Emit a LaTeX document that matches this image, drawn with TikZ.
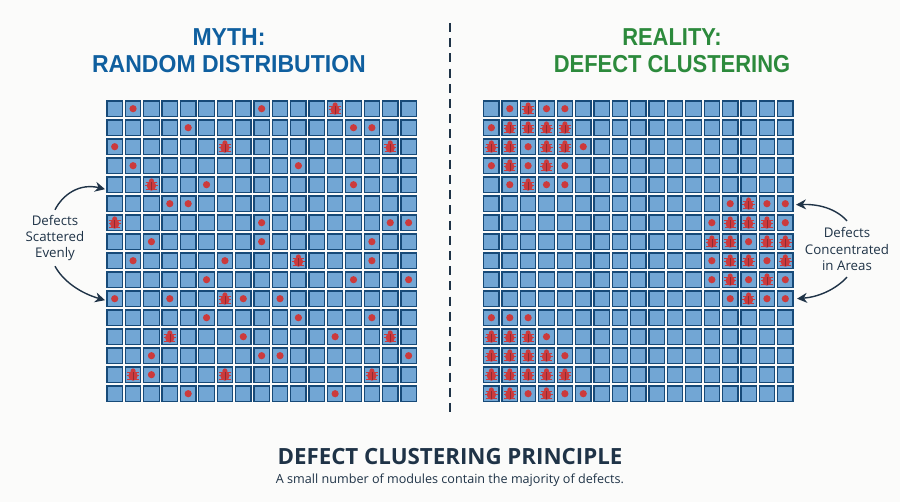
\documentclass[tikz,border=0pt]{standalone}
\usepackage{fontspec}
\setmainfont{Open Sans}
\newfontfamily\titlefontL[FakeStretch=0.94]{Liberation Sans}
\newfontfamily\titlefontR[FakeStretch=0.895]{Liberation Sans}
\usetikzlibrary{arrows.meta}
\definecolor{pagebg}{HTML}{FBFBFA}
\definecolor{cellfill}{HTML}{72A6D4}
\definecolor{celledge}{HTML}{174A78}
\definecolor{defect}{HTML}{CC3A3C}
\definecolor{defectdark}{HTML}{8E2B33}
\definecolor{ink}{HTML}{1F3347}
\definecolor{mythblue}{HTML}{0F5F9F}
\definecolor{realgreen}{HTML}{2C8A3C}
\tikzset{
  cellbox/.style={draw=celledge,fill=cellfill,line width=1.25pt,minimum size=15.4pt,inner sep=0pt,outer sep=0pt},
  dotmark/.style={fill=defect,draw=none},
  headline/.style={align=center,inner sep=0pt},
  sidelabel/.style={font=\fontsize{13.3}{16.3}\selectfont,align=center,text=ink,inner sep=0pt,minimum height=56pt},
  callout/.style={draw=ink,line width=1.4pt,-{Stealth[length=10pt,width=10pt]}},
  bug/.pic={
    \draw[defect,line width=.7pt] (-5.8,-2.4)--(5.8,-2.4) (-6.2,1)--(6.2,1) (-5.6,5)--(5.6,5);
    \fill[defect] (0,1) ellipse (4.7 and 5);
    \fill[defect] (0,-3.8) circle (2.5);
    \draw[defectdark,line width=.5pt] (0,-2.6)--(0,5.6);
  }
}
\newcommand{\dotsat}[2]{\foreach \r/\c in {#2} \fill[dotmark] (#1-\r-\c.center) circle (3.6);}
\newcommand{\bugsat}[2]{\foreach \r/\c in {#2} \pic at (#1-\r-\c.center) {bug};}
\begin{document}
\begin{tikzpicture}[x=1pt,y=-1pt]
\fill[pagebg] (0,0) rectangle (900,502);
\useasboundingbox (0,0) rectangle (900,502);
% grids
\foreach \r in {0,...,15}{
  \foreach \c in {0,...,16}{
    \node[cellbox] (L-\r-\c) at ({114.7+18.37*\c},{108.7+19*\r}) {};
    \node[cellbox] (R-\r-\c) at ({491.4+18.37*\c},{108.7+19*\r}) {};
  }
}
% left defects
\dotsat{L}{0/1,0/8,1/4,1/13,1/14,2/0,3/1,3/10,4/5,4/13,5/3,5/4,6/8,6/15,6/16,7/2,7/8,7/14,8/1,8/6,8/14,9/5,9/13,9/16,10/0,10/3,10/7,10/9,11/5,11/10,11/14,12/7,12/12,13/2,13/8,13/9,13/16,14/2,15/4,15/12}
\bugsat{L}{0/12,2/6,2/15,4/2,6/0,8/10,10/6,12/3,12/15,14/1,14/6,14/14}
% right defects
\dotsat{R}{0/1,0/3,0/4,1/0,2/2,2/5,3/0,3/2,3/4,4/1,4/3,4/4,5/13,5/15,5/16,6/12,6/16,7/14,8/12,8/15,9/12,9/14,9/16,10/13,10/15,10/16,11/0,11/1,11/2,12/3,13/4,15/2,15/4,15/5}
\bugsat{R}{0/2,1/1,1/2,1/3,1/4,2/0,2/1,2/3,2/4,3/1,3/3,4/2,5/14,6/13,6/14,6/15,7/12,7/13,7/15,7/16,8/13,8/14,8/16,9/13,9/15,10/14,12/0,12/1,12/2,13/0,13/1,13/2,13/3,14/0,14/1,14/2,14/3,14/4,15/0,15/1,15/3}
% headlines
\node[headline,text=mythblue,font=\titlefontL\bfseries\fontsize{24.5}{27}\selectfont] (mythtitle) at (229,50.5) {MYTH:\\RANDOM DISTRIBUTION};
\node[headline,text=realgreen,font=\titlefontR\bfseries\fontsize{24.5}{27}\selectfont] (realtitle) at (672,50.5) {REALITY:\\DEFECT CLUSTERING};
% divider
\coordinate (divtop) at (450,23);
\coordinate (divbot) at (450,416);
\draw[ink,line width=1.8pt,dash pattern=on 9pt off 6.2pt] (divtop)--(divbot);
% side labels
\node[sidelabel] (leftlabel) at (55,238) {Defects\\Scattered\\Evenly};
\node[sidelabel] (rightlabel) at (847,249) {Defects\\Concentrated\\in Areas};
\draw[callout] (leftlabel.north) .. controls (63,194) and (80,183) .. ([xshift=-2pt,yshift=-4.5pt]L-4-0.west);
\draw[callout] (leftlabel.south) .. controls (63,281) and (80,293) .. ([xshift=-2pt,yshift=-1.5pt]L-10-0.west);
\draw[callout] (rightlabel.north) .. controls (835,208) and (818,204) .. ([xshift=3pt,yshift=-1pt]R-5-16.east);
\draw[callout] (rightlabel.south) .. controls (835,290) and (818,297) .. ([xshift=4pt]R-10-16.east);
% bottom
\node[font=\bfseries\fontsize{22.3}{26}\selectfont,text=ink,inner sep=0pt] (maintitle) at (450,457) {DEFECT CLUSTERING PRINCIPLE};
\node[font=\fontsize{12.6}{15}\selectfont,text=ink,inner sep=0pt] (subtitle) at (450,480) {A small number of modules contain the majority of defects.};
\end{tikzpicture}
\end{document}
